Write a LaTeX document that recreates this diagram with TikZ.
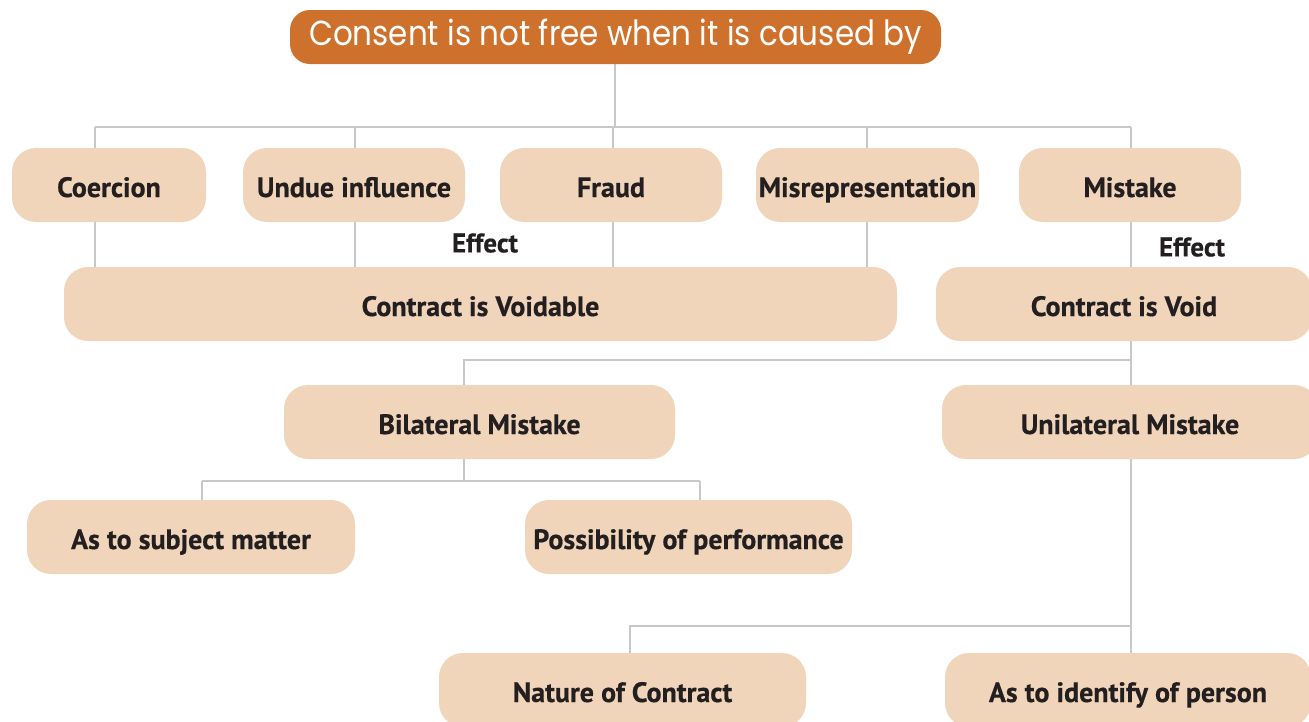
\documentclass[tikz,border=0pt]{standalone}
\usepackage{fontspec}
\usepackage{pdfrender}
\usetikzlibrary{backgrounds}
\setmainfont{PT Sans}[BoldFeatures={FakeBold=0.5}]
\newfontfamily\titlefont{Poppins}
\definecolor{boxfill}{HTML}{F0D5BA}
\definecolor{titlefill}{HTML}{CD712D}
\definecolor{linegray}{HTML}{C8C8C8}
\definecolor{txt}{HTML}{231F20}
\tikzset{
  box/.style={rectangle, rounded corners=24pt, fill=boxfill, minimum height=74pt, inner sep=0pt, text=txt, text height=24pt, text depth=0pt, font=\fontsize{28}{32}\selectfont\bfseries},
  titlebox/.style={rectangle, rounded corners=20pt, fill=titlefill, minimum height=54pt, minimum width=651pt, inner sep=0pt, text=white, font=\titlefont\fontsize{31}{34}\selectfont},
  lbl/.style={inner sep=0pt, text=txt, font=\fontsize{27}{30}\selectfont\bfseries},
  conn/.style={draw=linegray, line width=2.8pt}
}
\begin{document}
\begin{tikzpicture}[x=1pt,y=-1pt]
\path[use as bounding box] (0,0) rectangle (1309,721);
\clip (0,0) rectangle (1309,721);
% coordinates for line x positions and junctions
\coordinate (x95) at (95,0);
\coordinate (x355) at (355,0);
\coordinate (x613) at (613,0);
\coordinate (x867) at (867,0);
\coordinate (x1131) at (1131,0);
\coordinate (x464) at (464,0);
\coordinate (x202) at (202,0);
\coordinate (x700) at (700,0);
\coordinate (x630) at (630,0);
\coordinate (j1) at (615,127);
\coordinate (j2) at (1131,360);
\coordinate (j3) at (464,481);
\coordinate (j4) at (1131,626);

\node[titlebox] (title) at (615.5,37) {\scalebox{1}[1.12]{\textpdfrender{TextRenderingMode=FillStroke,LineWidth=0.9,StrokeColor=white}{Consent is not free when it is caused by}}};

\node[box, minimum width=194pt] (coe) at (109,185) {Coercion};
\node[box, minimum width=222pt] (und) at (354,185) {Undue influence};
\node[box, minimum width=222pt] (fra) at (611,185) {Fraud};
\node[box, minimum width=223pt] (mis) at (867.5,185) {Misrepresentation};
\node[box, minimum width=222pt] (mst) at (1130,185) {Mistake};

\node[box, minimum width=833pt] (vdb) at (480.5,304) {Contract is Voidable};
\node[box, minimum width=376pt] (vd) at (1124,304) {Contract is Void};

\node[lbl] (ef1) at (485,243) {Effect};
\node[lbl] (ef2) at (1192,247) {Effect};

\node[box, minimum width=391pt] (bil) at (479.5,422) {Bilateral Mistake};
\node[box, minimum width=376pt] (uni) at (1130,422) {Unilateral Mistake};

\node[box, minimum width=328pt] (sub) at (191,537) {As to subject matter};
\node[box, minimum width=327pt] (pos) at (688.5,537) {Possibility of performance};

\node[box, minimum width=367pt] (nat) at (622.5,690) {Nature of Contract};
\node[box, minimum width=366pt] (idn) at (1128,690) {As to identify of person};

\begin{scope}[on background layer]
\draw[conn] (title.south -| j1) -- (j1);
\draw[conn] (j1 -| x95) -- (j1 -| x1131);
\draw[conn] (j1 -| x95) -- (coe.north -| x95);
\draw[conn] (j1 -| x355) -- (und.north -| x355);
\draw[conn] (j1 -| x613) -- (fra.north -| x613);
\draw[conn] (j1 -| x867) -- (mis.north -| x867);
\draw[conn] (j1 -| x1131) -- (mst.north -| x1131);
\draw[conn] (coe.south -| x95) -- (vdb.north -| x95);
\draw[conn] (und.south -| x355) -- (vdb.north -| x355);
\draw[conn] (fra.south -| x613) -- (vdb.north -| x613);
\draw[conn] (mis.south -| x867) -- (vdb.north -| x867);
\draw[conn] (mst.south -| x1131) -- (vd.north -| x1131);
\draw[conn] (vd.south -| x1131) -- (uni.north -| x1131);
\draw[conn] (j2) -- (j2 -| x464) -- (bil.north -| x464);
\draw[conn] (bil.south -| x464) -- (j3);
\draw[conn] (j3 -| x202) -- (j3 -| x700);
\draw[conn] (j3 -| x202) -- (sub.north -| x202);
\draw[conn] (j3 -| x700) -- (pos.north -| x700);
\draw[conn] (uni.south -| x1131) -- (idn.north -| x1131);
\draw[conn] (j4) -- (j4 -| x630) -- (nat.north -| x630);
\end{scope}
\end{tikzpicture}
\end{document}
